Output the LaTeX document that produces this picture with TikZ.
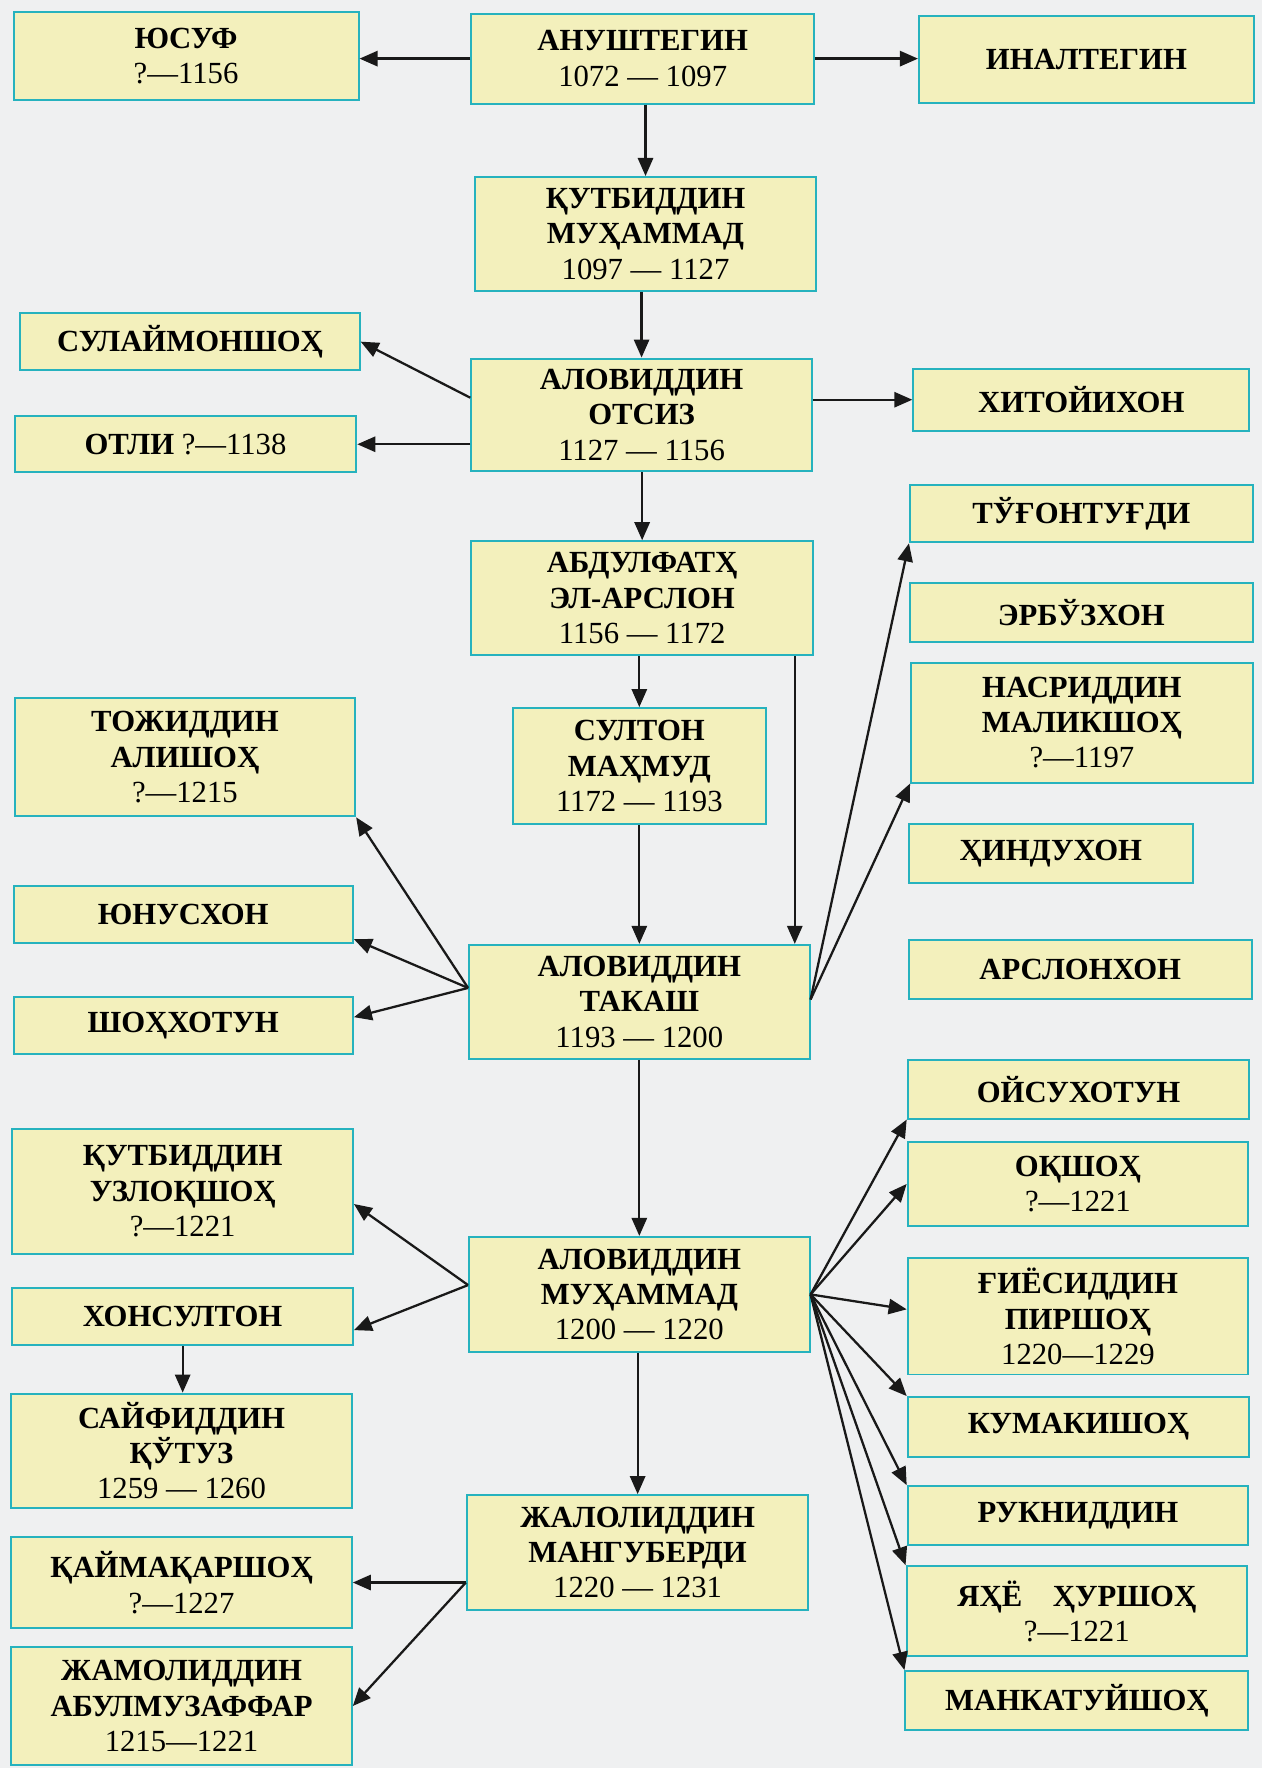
\documentclass[tikz,border=0pt]{standalone}
\usepackage{fontspec}
\setmainfont{Liberation Serif}
\usetikzlibrary{arrows.meta,calc}
\definecolor{boxfill}{RGB}{243,240,188}
\definecolor{boxline}{RGB}{38,178,190}
\definecolor{pagebg}{RGB}{239,240,241}
\newcommand{\yr}[1]{{\mdseries #1}}
\tikzset{
  kin/.style 2 args={rectangle, draw=boxline, fill=boxfill, line width=1pt, inner sep=0pt, align=center,
    font=\fontsize{15.5}{17.8}\selectfont\bfseries, minimum width=#1*0.02cm, minimum height=#2*0.02cm},
  line/.style={draw=black!90, line width=1.15pt, -{Triangle[length=0.32cm,width=0.27cm]}}
}
\begin{document}
\begin{tikzpicture}[x=0.02cm,y=-0.02cm]
\fill[pagebg] (0,0) rectangle (1119,1568);
\useasboundingbox (0,0) rectangle (1119,1568);

%% middle column
\node[kin={304}{80}] (anush) at (570,52) {АНУШТЕГИН\\\yr{1072 — 1097}};
\node[kin={303}{101}] (qutb) at (572.5,207.5) {ҚУТБИДДИН\\МУҲАММАД\\\yr{1097 — 1127}};
\node[kin={302}{100}] (otsiz) at (569,368) {АЛОВИДДИН\\ОТСИЗ\\\yr{1127 — 1156}};
\node[kin={303}{101}] (abdul) at (569.5,530.5) {АБДУЛФАТҲ\\ЭЛ-АРСЛОН\\\yr{1156 — 1172}};
\node[kin={224}{103}] (sulton) at (567,679.5) {СУЛТОН\\МАҲМУД\\\yr{1172 — 1193}};
\node[kin={302}{101}] (takash) at (567,888.5) {АЛОВИДДИН\\ТАКАШ\\\yr{1193 — 1200}};
\node[kin={302}{102}] (muham) at (567,1148) {АЛОВИДДИН\\МУҲАММАД\\\yr{1200 — 1220}};
\node[kin={303}{102}] (jalol) at (565.5,1377) {ЖАЛОЛИДДИН\\МАНГУБЕРДИ\\\yr{1220 — 1231}};

%% left column
\node[kin={306}{78}] (yusuf) at (165,50) {ЮСУФ\\\yr{?—1156}};
\node[kin={301}{50}] (sulay) at (168.5,303) {СУЛАЙМОНШОҲ};
\node[kin={303}{50}] (otli) at (164.5,394) {ОТЛИ \yr{?—1138}};
\node[kin={302}{105}] (toj) at (164,671.5) {ТОЖИДДИН\\АЛИШОҲ\\\yr{?—1215}};
\node[kin={301}{50}] (yunus) at (162.5,811) {ЮНУСХОН};
\node[kin={301}{51}] (shoh) at (162.5,909.5) {ШОҲХОТУН};
\node[kin={302}{111}] (uzloq) at (162,1056.5) {ҚУТБИДДИН\\УЗЛОҚШОҲ\\\yr{?—1221}};
\node[kin={302}{51}] (xonsul) at (162,1167.5) {ХОНСУЛТОН};
\node[kin={302}{101}] (sayf) at (161,1286.5) {САЙФИДДИН\\ҚЎТУЗ\\\yr{1259 — 1260}};
\node[kin={302}{81}] (qaym) at (161,1403.5) {ҚАЙМАҚАРШОҲ\\\yr{?—1227}};
\node[kin={302}{104}] (jamol) at (161,1513) {ЖАМОЛИДДИН\\АБУЛМУЗАФФАР\\\yr{1215—1221}};

%% right column
\node[kin={297}{77}] (inal) at (963.5,52.5) {ИНАЛТЕГИН};
\node[kin={298}{55}] (xitoy) at (959,354.5) {ХИТОЙИХОН};
\node[kin={304}{51}] (tugon) at (959,455.5) {ТЎҒОНТУҒДИ};
\node[kin={304}{52}] (erbuz) at (959,543) {ЭРБЎЗХОН};
\node[kin={303}{106}] (nasr) at (959.5,641) {НАСРИДДИН\\МАЛИКШОҲ\\\yr{?—1197}};
\node[kin={252}{52}] (hindu) at (932,757) {ҲИНДУХОН};
\node[kin={304}{52}] (arslon) at (958,860) {АРСЛОНХОН};
\node[kin={303}{52}] (oysu) at (956.5,966) {ОЙСУХОТУН};
\node[kin={302}{74}] (oqshoh) at (956,1050) {ОҚШОҲ\\\yr{?—1221}};
\node[kin={302}{103}] (giyos) at (956,1167.5) {ҒИЁСИДДИН\\ПИРШОҲ\\\yr{1220—1229}};
\node[kin={303}{53}] (kumaki) at (956.5,1265.5) {КУМАКИШОҲ};
\node[kin={302}{52}] (rukn) at (956,1344) {РУКНИДДИН};
\node[kin={302}{80}] (yahyo) at (955,1429) {ЯҲЁ\quad ҲУРШОҲ\\\yr{?—1221}};
\node[kin={304}{52}] (manka) at (955,1508) {МАНКАТУЙШОҲ};

%% arrows
\draw[line] (anush.west) -- (anush.west -| yusuf.east);
\draw[line] (anush.east) -- (anush.east -| inal.west);
\draw[line] (anush.south -| qutb.north) -- (qutb.north);
\draw[line] (qutb.south -| otsiz.north) -- (otsiz.north);

\coordinate (otsizL) at ($(otsiz.north west)!0.35!(otsiz.south west)$);
\draw[line] (otsizL) -- (sulay.east);
\draw[line] (otsiz.west |- otli.east) -- (otli.east);
\draw[line] (otsiz.east |- xitoy.west) -- (xitoy.west);
\draw[line] (otsiz.south -| abdul.north) -- (abdul.north);

\draw[line] (abdul.south -| sulton.north) -- (sulton.north);
\coordinate (abdulR) at ($(abdul.south east)+(-17,0)$);
\draw[line] (abdulR) -- (abdulR |- takash.north);
\draw[line] (sulton.south -| takash.north) -- (takash.north);

\coordinate (takashL) at ($(takash.north west)!0.38!(takash.south west)$);
\draw[line] (takashL) -- (toj.south east);
\draw[line] (takashL) -- ($(yunus.south east)+(0,-4)$);
\draw[line] (takashL) -- ($(shoh.north east)!0.36!(shoh.south east)$);
\coordinate (takashR) at ($(takash.north east)!0.48!(takash.south east)$);
\draw[line] (takashR) -- (tugon.south west);
\draw[line] (takashR) -- (nasr.south west);
\draw[line] (takash.south -| muham.north) -- (muham.north);

\foreach \kid in {oysu.south west, oqshoh.west, kumaki.north west, rukn.north west, yahyo.north west, manka.north west}
  \draw[line] (muham.east) -- (\kid);
\draw[line] (muham.east) -- ($(giyos.north west)!0.44!(giyos.south west)$);

\coordinate (muhamL) at ($(muham.north west)!0.42!(muham.south west)$);
\draw[line] (muhamL) -- ($(uzloq.north east)!0.6!(uzloq.south east)$);
\draw[line] (muhamL) -- ($(xonsul.north east)!0.73!(xonsul.south east)$);
\draw[line] (xonsul.south) -- (xonsul.south |- sayf.north);
\draw[line] (muham.south -| jalol.north) -- (jalol.north);

\draw[line] (jalol.west |- qaym.east) -- (qaym.east);
\draw[line] (jalol.west |- qaym.east) -- (jamol.east);
\end{tikzpicture}
\end{document}
